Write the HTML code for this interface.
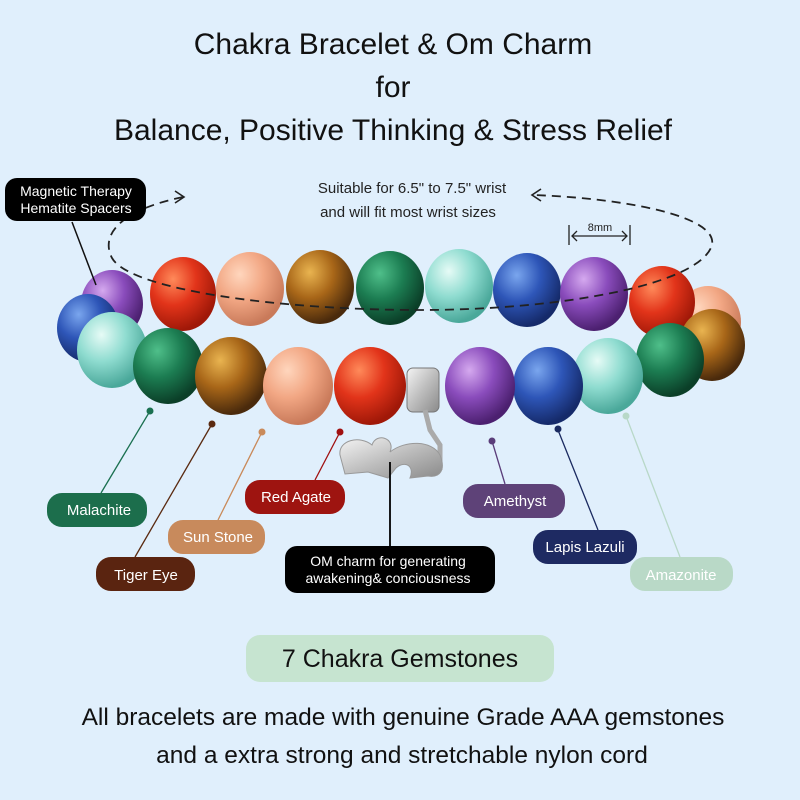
<!DOCTYPE html>
<html><head><meta charset="utf-8"><style>
body{margin:0;background:#e0effc;}
svg{display:block}
text{font-family:"Liberation Sans",sans-serif}
</style></head><body>
<svg width="800" height="800" viewBox="0 0 800 800" xmlns="http://www.w3.org/2000/svg">
<defs>
<radialGradient id="red" cx="35%" cy="30%" r="70%"><stop offset="0" stop-color="#ff8a5a"/><stop offset=".5" stop-color="#e2341a"/><stop offset="1" stop-color="#a01808"/></radialGradient>
<radialGradient id="peach" cx="35%" cy="30%" r="70%"><stop offset="0" stop-color="#ffd6bd"/><stop offset=".5" stop-color="#f2a784"/><stop offset="1" stop-color="#c97a5a"/></radialGradient>
<radialGradient id="tiger" cx="35%" cy="30%" r="70%"><stop offset="0" stop-color="#e9b450"/><stop offset=".5" stop-color="#a86618"/><stop offset="1" stop-color="#4a2a0c"/></radialGradient>
<radialGradient id="mal" cx="35%" cy="30%" r="70%"><stop offset="0" stop-color="#4fbf8a"/><stop offset=".5" stop-color="#1c7d52"/><stop offset="1" stop-color="#0b3f28"/></radialGradient>
<radialGradient id="ama" cx="35%" cy="30%" r="70%"><stop offset="0" stop-color="#e6fbf6"/><stop offset=".5" stop-color="#8fdcd0"/><stop offset="1" stop-color="#4aa89a"/></radialGradient>
<radialGradient id="lap" cx="35%" cy="30%" r="70%"><stop offset="0" stop-color="#7aa6ee"/><stop offset=".5" stop-color="#2e56b8"/><stop offset="1" stop-color="#152a6a"/></radialGradient>
<radialGradient id="amy" cx="35%" cy="30%" r="70%"><stop offset="0" stop-color="#d5a9ef"/><stop offset=".5" stop-color="#8a4cbc"/><stop offset="1" stop-color="#4c2070"/></radialGradient>
<linearGradient id="silv" x1="0" y1="0" x2="1" y2="1"><stop offset="0" stop-color="#f4f4f4"/><stop offset=".5" stop-color="#bdbdbd"/><stop offset="1" stop-color="#8a8a8a"/></linearGradient>
</defs>

<text x="393" y="54" text-anchor="middle" font-size="30" fill="#111">Chakra Bracelet &amp; Om Charm</text>
<text x="393" y="97" text-anchor="middle" font-size="30" fill="#111">for</text>
<text x="393" y="140" text-anchor="middle" font-size="30" fill="#111">Balance, Positive Thinking &amp; Stress Relief</text>

<!-- back row -->
<ellipse cx="112" cy="304" rx="31" ry="34" fill="url(#amy)"/>
<ellipse cx="88" cy="328" rx="31" ry="34" fill="url(#lap)"/>
<ellipse cx="708" cy="322" rx="33" ry="36" fill="url(#peach)"/>
<ellipse cx="662" cy="302" rx="33" ry="36" fill="url(#red)"/>
<ellipse cx="183" cy="294" rx="33" ry="37" fill="url(#red)"/>
<ellipse cx="250" cy="289" rx="34" ry="37" fill="url(#peach)"/>
<ellipse cx="320" cy="287" rx="34" ry="37" fill="url(#tiger)"/>
<ellipse cx="390" cy="288" rx="34" ry="37" fill="url(#mal)"/>
<ellipse cx="459" cy="286" rx="34" ry="37" fill="url(#ama)"/>
<ellipse cx="527" cy="290" rx="34" ry="37" fill="url(#lap)"/>
<ellipse cx="594" cy="294" rx="34" ry="37" fill="url(#amy)"/>

<!-- dashed ellipse -->
<path d="M183,197 C120,210 100,235 112,258 C130,290 280,310 420,310 C560,310 700,285 712,245 C718,215 620,198 533,195" fill="none" stroke="#222" stroke-width="1.8" stroke-dasharray="9,6"/>
<path d="M175,191 L184,197 L175,203" fill="none" stroke="#222" stroke-width="1.6"/>
<path d="M541,189 L532,195 L541,201" fill="none" stroke="#222" stroke-width="1.6"/>

<!-- front row -->
<ellipse cx="712" cy="345" rx="33" ry="36" fill="url(#tiger)"/>
<ellipse cx="670" cy="360" rx="34" ry="37" fill="url(#mal)"/>
<ellipse cx="112" cy="350" rx="35" ry="38" fill="url(#ama)"/>
<ellipse cx="168" cy="366" rx="35" ry="38" fill="url(#mal)"/>
<ellipse cx="231" cy="376" rx="36" ry="39" fill="url(#tiger)"/>
<ellipse cx="298" cy="386" rx="35" ry="39" fill="url(#peach)"/>
<ellipse cx="370" cy="386" rx="36" ry="39" fill="url(#red)"/>
<ellipse cx="608" cy="376" rx="35" ry="38" fill="url(#ama)"/>
<ellipse cx="548" cy="386" rx="35" ry="39" fill="url(#lap)"/>
<ellipse cx="480" cy="386" rx="35" ry="39" fill="url(#amy)"/>
<rect x="407" y="368" width="32" height="44" rx="6" fill="url(#silv)" stroke="#777"/>
<path d="M425,410 L430,430 L440,445 L440,470" fill="none" stroke="#aaa" stroke-width="5"/>
<path d="M340,455 C338,440 360,435 372,445 C376,432 396,438 390,452 C405,440 432,440 440,455 C446,470 440,478 428,476 L410,478 C415,466 405,460 396,468 L388,478 L368,472 L345,474 Z" fill="url(#silv)" stroke="#999"/>

<!-- magnetic -->
<line x1="72" y1="222" x2="96" y2="285" stroke="#111" stroke-width="1.5"/>
<rect x="5" y="178" width="141" height="43" rx="12" fill="#000"/>
<text x="76" y="196" text-anchor="middle" font-size="14" fill="#fff">Magnetic Therapy</text>
<text x="76" y="213" text-anchor="middle" font-size="14" fill="#fff">Hematite Spacers</text>

<text x="412" y="193" text-anchor="middle" font-size="15" fill="#222">Suitable for 6.5" to 7.5" wrist</text>
<text x="408" y="217" text-anchor="middle" font-size="15" fill="#222">and will fit most wrist sizes</text>

<line x1="569" y1="225" x2="569" y2="245" stroke="#222" stroke-width="1.3"/>
<line x1="630" y1="225" x2="630" y2="245" stroke="#222" stroke-width="1.3"/>
<line x1="572" y1="236" x2="627" y2="236" stroke="#222" stroke-width="1.3"/>
<path d="M577,231 L572,236 L577,241 M622,231 L627,236 L622,241" fill="none" stroke="#222" stroke-width="1.3"/>
<text x="600" y="231" text-anchor="middle" font-size="11" fill="#222">8mm</text>

<!-- leader lines -->
<g stroke-width="1.3">
<line x1="150" y1="411" x2="101" y2="493" stroke="#1a7050"/>
<line x1="212" y1="424" x2="135" y2="557" stroke="#5a2a10"/>
<line x1="262" y1="432" x2="218" y2="520" stroke="#c98a5a"/>
<line x1="340" y1="432" x2="315" y2="480" stroke="#a01010"/>
<line x1="492" y1="441" x2="505" y2="484" stroke="#5a3d7a"/>
<line x1="558" y1="430" x2="598" y2="530" stroke="#1a2a60"/>
<line x1="626" y1="416" x2="680" y2="557" stroke="#b8d8c8"/>
<line x1="390" y1="462" x2="390" y2="546" stroke="#000" stroke-width="1.8"/>
</g>
<circle cx="150" cy="411" r="3.5" fill="#1a7050"/>
<circle cx="212" cy="424" r="3.5" fill="#5a2a10"/>
<circle cx="262" cy="432" r="3.5" fill="#c98a5a"/>
<circle cx="340" cy="432" r="3.5" fill="#a01010"/>
<circle cx="492" cy="441" r="3.5" fill="#5a3d7a"/>
<circle cx="558" cy="429" r="3.5" fill="#1a2a60"/>
<circle cx="626" cy="416" r="3.5" fill="#b8d8c8"/>

<g font-size="15" fill="#fff" text-anchor="middle">
<rect x="47" y="493" width="100" height="34" rx="15" fill="#1c6e4c"/><text x="99" y="515">Malachite</text>
<rect x="96" y="557" width="99" height="34" rx="15" fill="#5a2410"/><text x="146" y="580">Tiger Eye</text>
<rect x="168" y="520" width="97" height="34" rx="15" fill="#c88a5c"/><text x="218" y="542">Sun Stone</text>
<rect x="245" y="480" width="100" height="34" rx="15" fill="#9e1410"/><text x="296" y="502">Red Agate</text>
<rect x="285" y="546" width="210" height="47" rx="12" fill="#000"/>
<text x="388" y="566" font-size="14">OM charm for generating</text>
<text x="388" y="583" font-size="14">awakening&amp; conciousness</text>
<rect x="463" y="484" width="102" height="34" rx="15" fill="#5e4278"/><text x="515" y="506">Amethyst</text>
<rect x="533" y="530" width="104" height="34" rx="15" fill="#1e2a62"/><text x="585" y="552">Lapis Lazuli</text>
<rect x="630" y="557" width="103" height="34" rx="15" fill="#b9d9c7"/><text x="681" y="580">Amazonite</text>
</g>

<rect x="246" y="635" width="308" height="47" rx="14" fill="#c6e4d0"/>
<text x="400" y="667" text-anchor="middle" font-size="25" fill="#111">7 Chakra Gemstones</text>
<text x="403" y="725" text-anchor="middle" font-size="24.5" fill="#111">All bracelets are made with genuine Grade AAA gemstones</text>
<text x="402" y="763" text-anchor="middle" font-size="24.5" fill="#111">and a extra strong and stretchable nylon cord</text>
</svg>
</body></html>
